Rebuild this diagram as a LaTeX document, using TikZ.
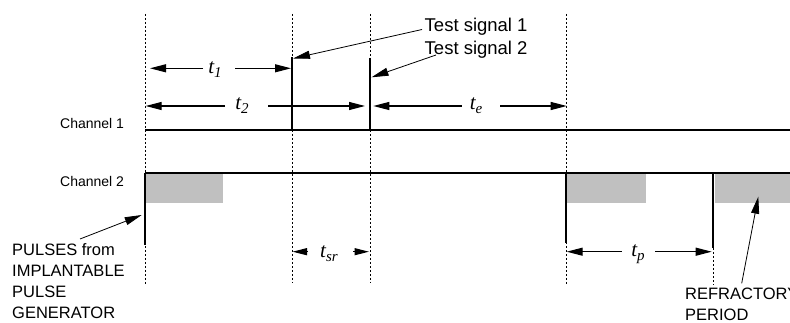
\documentclass[tikz,border=0pt]{standalone}
\usepackage{fontspec}
\setmainfont{Liberation Sans}
\newfontfamily\tfont{Liberation Serif}
\usetikzlibrary{arrows.meta}
\definecolor{refgray}{RGB}{192,192,192}
\newcommand{\tlab}[1]{{\tfont\itshape\fontsize{21}{21}\selectfont t\raisebox{-4pt}{\fontsize{15}{15}\selectfont #1}}}
\begin{document}
\begin{tikzpicture}[x=1pt,y=-1pt,
  sig/.style={line width=2pt},
  guide/.style={line width=0.9pt,dash pattern=on 2pt off 2pt},
  dimarrow/.style={line width=1.1pt,-{Triangle[length=16pt,width=8pt]}},
  shortarrow/.style={line width=1.1pt,-{Triangle[length=14.5pt,width=7pt]}},
  callout/.style={line width=0.8pt,-{Triangle[length=17pt,width=8pt]}},
  refr/.style={fill=refgray},
  chlabel/.style={font=\fontsize{14}{14}\selectfont,anchor=base west,inner sep=0pt},
  tslabel/.style={font=\fontsize{18.5}{18.5}\selectfont,anchor=base west,inner sep=0pt},
  caplabel/.style={font=\fontsize{16.5}{20.8}\selectfont,anchor=base west,inner sep=0pt,align=left},
  tlabel/.style={anchor=base,inner sep=0pt}]
\useasboundingbox (0,0) rectangle (790,323);

% refractory periods
\fill[refr] (143.5,173) rectangle (223,203);
\fill[refr] (566,173) rectangle (645.5,203);
\fill[refr] (715,173) rectangle (790,203);

% dotted guides
\draw[guide] (145,14) -- (145,285);
\draw[guide] (292,14) -- (292,283);
\draw[guide] (370,14) -- (370,283);
\draw[guide] (566,14) -- (566,285);
\draw[guide] (713,248) -- (713,285);

% channel lines
\draw[sig] (145,130) -- (790,130);
\draw[sig] (145,173) -- (790,173);

% pulses
\coordinate (ts1top) at (292,57);
\coordinate (ts1bot) at (292,130);
\coordinate (ts2top) at (370,58);
\coordinate (ts2bot) at (370,130);
\coordinate (pA) at (145,173);
\coordinate (pAb) at (145,245);
\coordinate (pB) at (566,173);
\coordinate (pBb) at (566,243);
\coordinate (pC) at (713,173);
\coordinate (pCb) at (713,248);
\draw[sig] (ts1top) -- (ts1bot);
\draw[sig] (ts2top) -- (ts2bot);
\draw[sig] (pA) -- (pAb);
\draw[sig] (pB) -- (pBb);
\draw[sig] (pC) -- (pCb);

% channel labels
\node[chlabel] (ch1) at (60,128.3) {Channel 1};
\node[chlabel] (ch2) at (60,186.7) {Channel 2};

% test signal labels and callouts
\node[tslabel] (ts1) at (424.5,31.7) {Test signal 1};
\node[tslabel] (ts2) at (424.5,55) {Test signal 2};
\coordinate (c1s) at (422,29.5);
\coordinate (c1e) at (293,58.5);
\coordinate (c2s) at (436,55);
\coordinate (c2e) at (371.5,77.3);
\draw[callout] (c1s) -- (c1e);
\draw[callout] (c2s) -- (c2e);

% t1
\node[tlabel] (t1) at (215,73.3) {\tlab{1}};
\coordinate (t1a) at (203,68.3); \coordinate (t1l) at (150,68.3);
\coordinate (t1b) at (235,68.3); \coordinate (t1r) at (291,68.3);
\draw[dimarrow] (t1a) -- (t1l);
\draw[dimarrow] (t1b) -- (t1r);
% t2
\node[tlabel] (t2) at (242,110) {\tlab{2}};
\coordinate (t2a) at (225,106); \coordinate (t2l) at (145.7,106);
\coordinate (t2b) at (268,106); \coordinate (t2r) at (365,106);
\draw[dimarrow] (t2a) -- (t2l);
\draw[dimarrow] (t2b) -- (t2r);
% te
\node[tlabel] (te) at (476,110) {\tlab{e}};
\coordinate (tea) at (461.7,106); \coordinate (tel) at (373.3,106);
\coordinate (teb) at (500,106); \coordinate (ter) at (566.7,106);
\draw[dimarrow] (tea) -- (tel);
\draw[dimarrow] (teb) -- (ter);
% tsr
\node[tlabel] (tsr) at (329,258) {\tlab{sr}};
\coordinate (tsra) at (307,251.7); \coordinate (tsrl) at (292.5,251.7);
\coordinate (tsrb) at (353,251.7); \coordinate (tsrr) at (369,251.7);
\draw[shortarrow] (tsra) -- (tsrl);
\draw[shortarrow] (tsrb) -- (tsrr);
% tp
\node[tlabel] (tp) at (638,256.5) {\tlab{p}};
\coordinate (tpa) at (621.7,251.7); \coordinate (tpl) at (566.7,251.7);
\coordinate (tpb) at (655,251.7); \coordinate (tpr) at (711.7,251.7);
\draw[dimarrow] (tpa) -- (tpl);
\draw[dimarrow] (tpb) -- (tpr);

% pulses caption (anchor is the baseline of the last line)
\node[caplabel] (pulses) at (12,318.3) {PULSES from\\IMPLANTABLE\\PULSE\\GENERATOR};
\coordinate (pcs) at (80,239);
\coordinate (pce) at (141.7,215);
\draw[callout] (pcs) -- (pce);

% refractory caption
\node[caplabel] (refrac) at (685,320.5) {REFRACTORY\\PERIOD};
\coordinate (rcs) at (741.7,283.3);
\coordinate (rce) at (758.3,196.7);
\draw[callout] (rcs) -- (rce);
\end{tikzpicture}
\end{document}
